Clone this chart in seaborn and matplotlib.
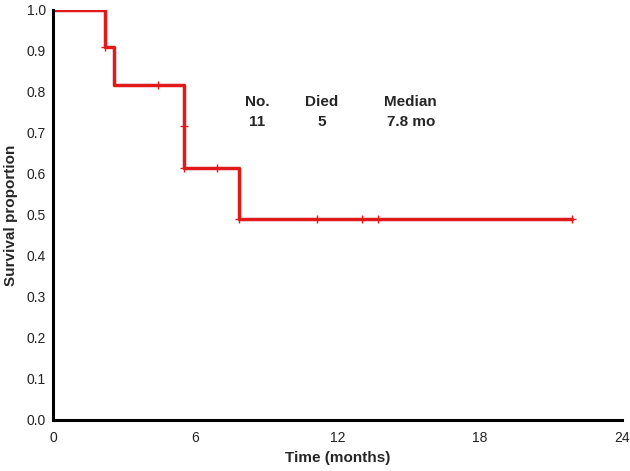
import matplotlib
matplotlib.use("Agg")
import matplotlib.pyplot as plt
import seaborn as sns
import pandas as pd

# Kaplan-Meier steps
tempos = [0, 2.19, 2.57, 5.53, 7.86, 21.9]
sobrevida = [1.0, 0.909, 0.818, 0.614, 0.491, 0.491]

# censored marks
tempos_cens = [2.19, 4.44, 5.53, 5.53, 6.9, 7.86, 11.12, 13.05, 13.71, 21.9]
sobrevida_cens = [0.909, 0.818, 0.716, 0.614, 0.614, 0.491, 0.491, 0.491, 0.491, 0.491]

cabecalhos = ["No.", "Died", "Median"]
valores = ["11", "5", "7.8 mo"]

vermelho = "#e0191b"

sns.set_theme(style="white")
plt.rcParams["font.family"] = ["Liberation Sans", "DejaVu Sans"]

curva = pd.DataFrame({"t": tempos, "s": sobrevida})
cens = pd.DataFrame({"t": tempos_cens, "s": sobrevida_cens})

fig = plt.figure(figsize=(6.3, 4.71), dpi=100)
ax = fig.add_axes([0.0841, 0.1083, 0.9029, 0.8705])

sns.lineplot(data=curva, x="t", y="s", drawstyle="steps-post", color=vermelho,
             linewidth=2.5, ax=ax)
sns.scatterplot(data=cens, x="t", y="s", marker="+", s=32, linewidth=1.0,
                color=vermelho, ax=ax, zorder=3)

ax.set_xlim(0, 24)
ax.set_ylim(0, 1.0)
ax.set_xticks([0, 6, 12, 18, 24])
ax.set_yticks([i / 10 for i in range(11)])
ax.set_yticklabels([f"{i / 10:.1f}" for i in range(11)])
ax.tick_params(axis="both", length=0, labelsize=10, colors="#222222")
ax.tick_params(axis="x", pad=8)
ax.tick_params(axis="y", pad=5)

for lado in ["top", "right"]:
    ax.spines[lado].set_visible(False)
for lado in ["left", "bottom"]:
    ax.spines[lado].set_color("black")
    ax.spines[lado].set_linewidth(2.2)

ax.set_xlabel("Time (months)", fontsize=11, fontweight="bold", labelpad=4)
ax.set_ylabel("Survival proportion", fontsize=11, fontweight="bold", labelpad=6)

xs = [8.6, 11.35, 15.1]
for x, cab, val in zip(xs, cabecalhos, valores):
    ax.text(x, 0.776, cab, ha="center", va="center", fontsize=11, fontweight="bold")
    ax.text(x, 0.727, val, ha="center", va="center", fontsize=11, fontweight="bold")

fig.savefig("out.png", dpi=100)
